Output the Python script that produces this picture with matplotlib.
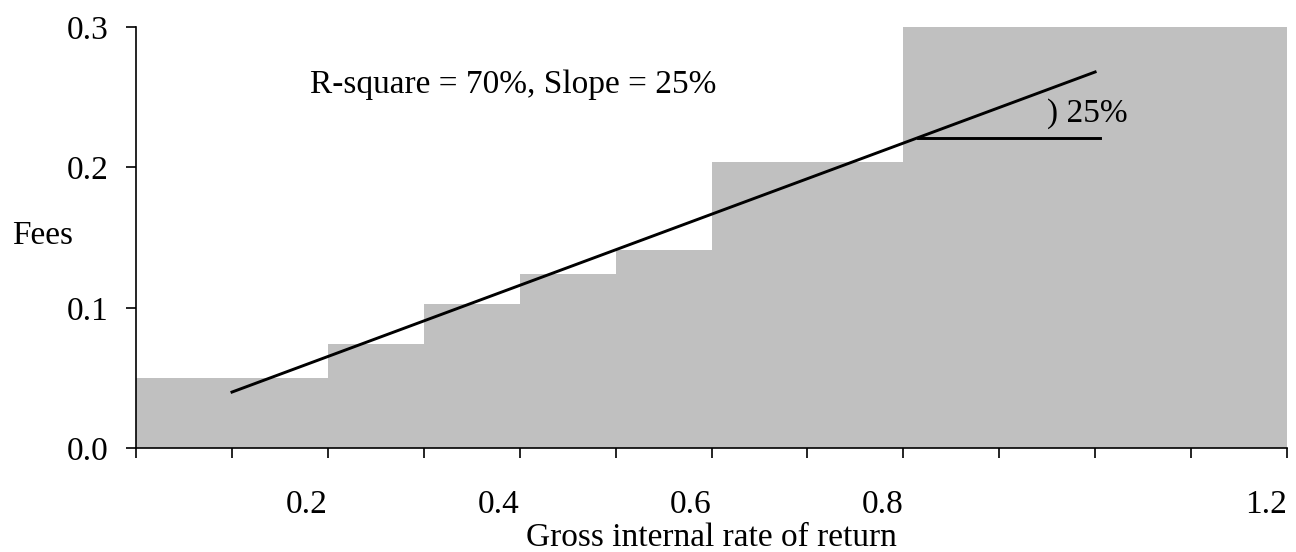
import numpy as np
import matplotlib
matplotlib.use("Agg")
from matplotlib import pyplot as plt

# bin edges (gross IRR) and mean fees per bin
bin_edges = [0.0, 0.2, 0.3, 0.4, 0.5, 0.6, 0.8, 1.2]
fees = [0.050, 0.074, 0.103, 0.124, 0.141, 0.204, 0.300]

# regression line end points
fit_x = [0.1, 1.0]
fit_y = [0.040, 0.268]

# horizontal slope marker
flat_x = [0.815, 1.005]
flat_y = [0.221, 0.221]

x_ticks = [0.0, 0.1, 0.2, 0.3, 0.4, 0.5, 0.6, 0.7, 0.8, 0.9, 1.0, 1.1, 1.2]
x_labels = ["", "", "0.2", "", "0.4", "", "0.6", "", "0.8", "", "", "", "1.2"]
y_ticks = [0.0, 0.1, 0.2, 0.3]
y_labels = ["0.0", "0.1", "0.2", "0.3"]

plt.rcParams['font.family'] = ['Liberation Serif', 'DejaVu Serif']
plt.rcParams['font.size'] = 24

fig = plt.figure(figsize=(12.96, 5.52), dpi=100)
ax = fig.add_axes([0.105, 0.188, 0.888, 0.763])

widths = np.diff(bin_edges)
ax.bar(bin_edges[:-1], fees, width=widths, align='edge', color='#c0c0c0', linewidth=0)
ax.plot(fit_x, fit_y, color='black', lw=2.1)
ax.plot(flat_x, flat_y, color='black', lw=2.1)

ax.text(0.1815, 0.259, "R-square = 70%, Slope = 25%", va='center', ha='left')
ax.text(0.95, 0.238, ") 25%", va='center', ha='left')

ax.set_xlim(0, 1.2)
ax.set_ylim(0, 0.3)
ax.set_xticks(x_ticks)
ax.set_xticklabels(x_labels, ha='right')
ax.set_yticks(y_ticks)
ax.set_yticklabels(y_labels)
ax.tick_params(axis='x', direction='out', length=7, width=1.2, pad=23)
ax.tick_params(axis='y', direction='out', length=7, width=1.2, pad=13)

for s in ['top', 'right']:
    ax.spines[s].set_visible(False)
for s in ['left', 'bottom']:
    ax.spines[s].set_linewidth(1.2)

ax.set_xlabel("Gross internal rate of return", va='baseline')
ax.xaxis.set_label_coords(0.5, -0.232)
ax.set_ylabel("Fees", rotation=0, ha='left', va='center')
ax.yaxis.set_label_coords(-0.108, 0.505)

fig.savefig("out.png", dpi=100)
